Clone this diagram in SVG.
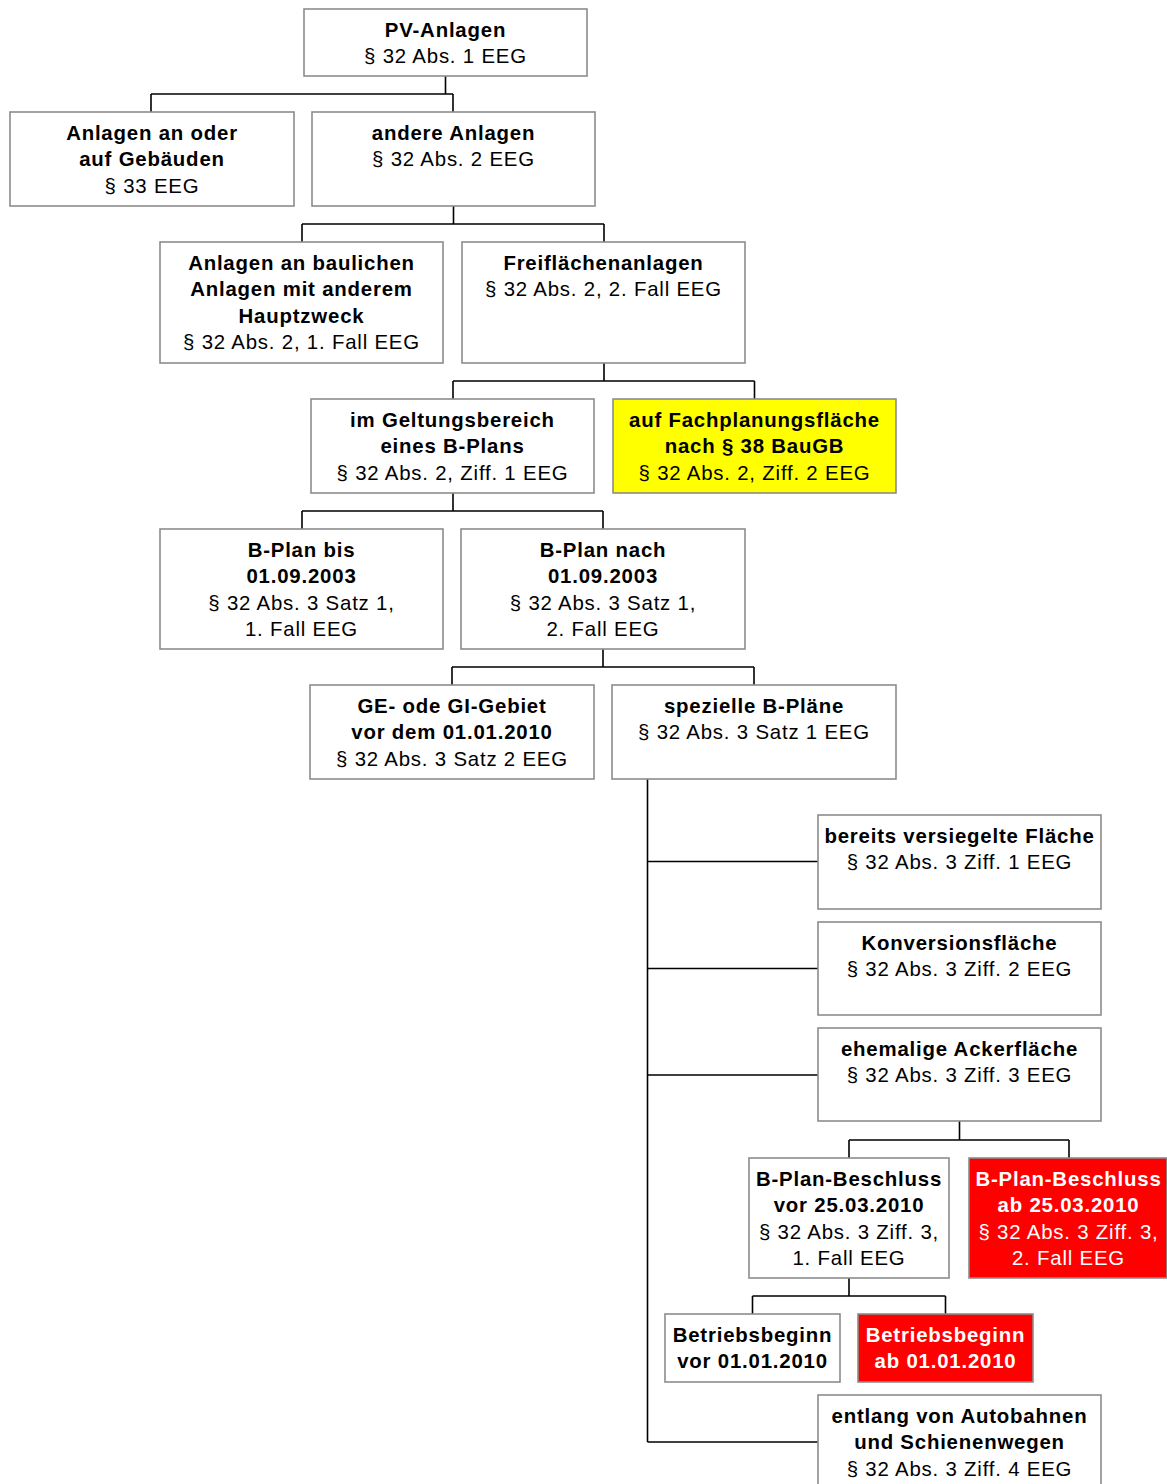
<svg xmlns="http://www.w3.org/2000/svg" width="1167" height="1484" viewBox="0 0 1167 1484">
<style>
.box{fill:#fff;stroke:#8c8c8c;stroke-width:1.6}
.yel{fill:#ffff00;stroke:#8c8c8c;stroke-width:1.6}
.red{fill:#ff0000;stroke:#8c8c8c;stroke-width:1.6}
text{font-family:"Liberation Sans",Arial,sans-serif;font-size:20.4px;text-anchor:middle;letter-spacing:0.8px;fill:#000}
.b{font-weight:bold}
.w{fill:#fff}
#connectors path{fill:none;stroke:#000;stroke-width:1.6}
</style>
<rect width="1167" height="1484" fill="#fff"/>
<g id="connectors">
<path d="M445.5,76 V94 M151,94 H453 M151,94 V112 M453,94 V112"/>
<path d="M453.5,206 V224 M302,224 H604 M302,224 V242 M604,224 V242"/>
<path d="M604,363 V381 M453,381 H754.5 M453,381 V399 M754.5,381 V399"/>
<path d="M453,493 V511 M302,511 H603 M302,511 V529 M603,511 V529"/>
<path d="M603,649 V667 M452,667 H754 M452,667 V685 M754,667 V685"/>
<path d="M647.5,779 V1442 M647.5,861.5 H818 M647.5,968.5 H818 M647.5,1075 H818 M647.5,1442 H818"/>
<path d="M959.5,1121 V1140 M849,1140 H1069 M849,1140 V1158 M1069,1140 V1158"/>
<path d="M849,1278 V1296 M752.5,1296 H945.5 M752.5,1296 V1314 M945.5,1296 V1314"/>
</g>
<g id="n-pv"><rect class="box" x="304" y="9" width="283" height="67"/>
<text x="445.5" y="36.5" class="b">PV-Anlagen</text><text x="445.5" y="63">§ 32 Abs. 1 EEG</text></g>
<g id="n-gebaeude"><rect class="box" x="10" y="112" width="284" height="94"/>
<text x="152" y="139.5" class="b">Anlagen an oder</text><text x="152" y="166" class="b">auf Gebäuden</text><text x="152" y="192.5">§ 33 EEG</text></g>
<g id="n-andere"><rect class="box" x="312" y="112" width="283" height="94"/>
<text x="453.5" y="139.5" class="b">andere Anlagen</text><text x="453.5" y="166">§ 32 Abs. 2 EEG</text></g>
<g id="n-baulich"><rect class="box" x="160" y="242" width="283" height="121"/>
<text x="301.5" y="269.5" class="b">Anlagen an baulichen</text><text x="301.5" y="296" class="b">Anlagen mit anderem</text><text x="301.5" y="322.5" class="b">Hauptzweck</text><text x="301.5" y="349">§ 32 Abs. 2, 1. Fall EEG</text></g>
<g id="n-freiflaeche"><rect class="box" x="462" y="242" width="283" height="121"/>
<text x="603.5" y="269.5" class="b">Freiflächenanlagen</text><text x="603.5" y="296">§ 32 Abs. 2, 2. Fall EEG</text></g>
<g id="n-geltung"><rect class="box" x="311" y="399" width="283" height="94"/>
<text x="452.5" y="426.5" class="b">im Geltungsbereich</text><text x="452.5" y="453" class="b">eines B-Plans</text><text x="452.5" y="479.5">§ 32 Abs. 2, Ziff. 1 EEG</text></g>
<g id="n-fachplanung"><rect class="yel" x="613" y="399" width="283" height="94"/>
<text x="754.5" y="426.5" class="b">auf Fachplanungsfläche</text><text x="754.5" y="453" class="b">nach § 38 BauGB</text><text x="754.5" y="479.5">§ 32 Abs. 2, Ziff. 2 EEG</text></g>
<g id="n-bis"><rect class="box" x="160" y="529" width="283" height="120"/>
<text x="301.5" y="556.5" class="b">B-Plan bis</text><text x="301.5" y="583" class="b">01.09.2003</text><text x="301.5" y="609.5">§ 32 Abs. 3 Satz 1,</text><text x="301.5" y="636">1. Fall EEG</text></g>
<g id="n-nach"><rect class="box" x="461" y="529" width="284" height="120"/>
<text x="603" y="556.5" class="b">B-Plan nach</text><text x="603" y="583" class="b">01.09.2003</text><text x="603" y="609.5">§ 32 Abs. 3 Satz 1,</text><text x="603" y="636">2. Fall EEG</text></g>
<g id="n-ge"><rect class="box" x="310" y="685" width="284" height="94"/>
<text x="452" y="712.5" class="b">GE- ode GI-Gebiet</text><text x="452" y="739" class="b">vor dem 01.01.2010</text><text x="452" y="765.5">§ 32 Abs. 3 Satz 2 EEG</text></g>
<g id="n-speziell"><rect class="box" x="612" y="685" width="284" height="94"/>
<text x="754" y="712.5" class="b">spezielle B-Pläne</text><text x="754" y="739">§ 32 Abs. 3 Satz 1 EEG</text></g>
<g id="n-versiegelt"><rect class="box" x="818" y="815" width="283" height="94"/>
<text x="959.5" y="842.5" class="b">bereits versiegelte Fläche</text><text x="959.5" y="869">§ 32 Abs. 3 Ziff. 1 EEG</text></g>
<g id="n-konversion"><rect class="box" x="818" y="922" width="283" height="93"/>
<text x="959.5" y="949.5" class="b">Konversionsfläche</text><text x="959.5" y="976">§ 32 Abs. 3 Ziff. 2 EEG</text></g>
<g id="n-acker"><rect class="box" x="818" y="1028" width="283" height="93"/>
<text x="959.5" y="1055.5" class="b">ehemalige Ackerfläche</text><text x="959.5" y="1082">§ 32 Abs. 3 Ziff. 3 EEG</text></g>
<g id="n-beschluss-vor"><rect class="box" x="749" y="1158" width="200" height="120"/>
<text x="849" y="1185.5" class="b">B-Plan-Beschluss</text><text x="849" y="1212" class="b">vor 25.03.2010</text><text x="849" y="1238.5">§ 32 Abs. 3 Ziff. 3,</text><text x="849" y="1265">1. Fall EEG</text></g>
<g id="n-beschluss-ab"><rect class="red" x="969" y="1158" width="198" height="120"/>
<text x="1068.5" y="1185.5" class="b w">B-Plan-Beschluss</text><text x="1068.5" y="1212" class="b w">ab 25.03.2010</text><text x="1068.5" y="1238.5" class="w">§ 32 Abs. 3 Ziff. 3,</text><text x="1068.5" y="1265" class="w">2. Fall EEG</text></g>
<g id="n-betrieb-vor"><rect class="box" x="665" y="1314" width="175" height="68"/>
<text x="752.5" y="1341.5" class="b">Betriebsbeginn</text><text x="752.5" y="1368" class="b">vor 01.01.2010</text></g>
<g id="n-betrieb-ab"><rect class="red" x="858" y="1314" width="175" height="68"/>
<text x="945.5" y="1341.5" class="b w">Betriebsbeginn</text><text x="945.5" y="1368" class="b w">ab 01.01.2010</text></g>
<g id="n-entlang"><rect class="box" x="818" y="1395" width="283" height="100"/>
<text x="959.5" y="1422.5" class="b">entlang von Autobahnen</text><text x="959.5" y="1449" class="b">und Schienenwegen</text><text x="959.5" y="1475.5">§ 32 Abs. 3 Ziff. 4 EEG</text></g>
</svg>
